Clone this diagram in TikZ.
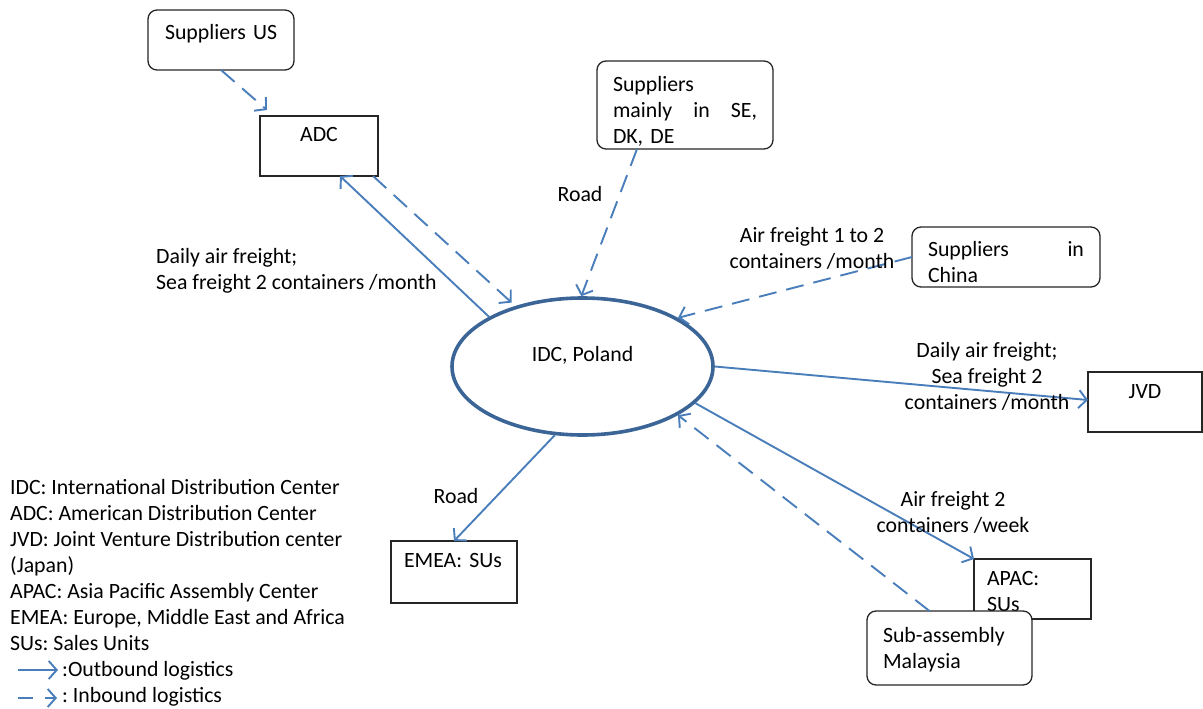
\documentclass[tikz,border=0pt]{standalone}
\usepackage{fontspec}
\setmainfont{Carlito}
\frenchspacing
\usetikzlibrary{arrows.meta,shapes.geometric}
\definecolor{arrowblue}{HTML}{4A7EBB}
\definecolor{idcblue}{HTML}{3A6596}
\begin{document}
\begin{tikzpicture}[x=1pt,y=-1pt,
    every node/.style={font=\fontsize{21.8}{26}\selectfont},
    box/.style={draw=black!85, line width=1.3pt, fill=white, anchor=north west, inner ysep=0pt, outer sep=0pt},
    rbox/.style={box, rounded corners=9pt},
    lbl/.style={anchor=base, align=center, inner sep=0pt},
    outbound/.style={arrowblue, line width=1.9pt, -{Straight Barb[length=8pt,width=18pt]}},
    inbound/.style={outbound, dash pattern=on 18pt off 10pt}]
    \useasboundingbox (0,0) rectangle (1203,709);

% centre
\node[ellipse, draw=idcblue, line width=3.6pt, minimum width=261, minimum height=137, inner sep=0pt, text depth=26pt] (idc) at (582.5,366.5) {IDC, Poland};

% boxes
\node[rbox, inner xsep=17pt, text width=112pt, text height=30pt, text depth=30pt] (sus) at (148,10) {\mbox{Suppliers US}};
\node[box, inner xsep=10pt, text width=98pt, align=center, text height=26pt, text depth=34pt] (adc) at (260,116) {ADC};
\node[rbox, inner xsep=16pt, text width=144pt, text height=31pt, text depth=57pt] (se) at (597,61)
    {Suppliers\\\makebox[144pt][s]{mainly\hfill in\hfill SE,}\\DK, DE};
\node[rbox, inner xsep=16pt, text width=156pt, text height=29pt, text depth=31pt] (china) at (912,227)
    {\makebox[156pt][s]{Suppliers\hfill in}\\China};
\node[box, inner xsep=10pt, text width=94pt, align=center, text height=26pt, text depth=34pt] (jvd) at (1088,372) {JVD};
\node[box, inner xsep=13pt, text width=100pt, text height=26pt, text depth=36pt] (emea) at (391,541) {EMEA: SUs};
\node[box, inner xsep=13pt, text width=91pt, text height=26pt, text depth=34pt] (apac) at (974,559) {APAC:\\SUs};
\node[rbox, inner xsep=16pt, text width=133pt, text height=31pt, text depth=43pt] (mal) at (867,611) {Sub-assembly\\Malaysia};

% flows
\draw[inbound] (sus.south) -- ([xshift=7pt,yshift=6pt]adc.north west);
\draw[outbound] (idc.152.8) -- ([xshift=21pt]adc.south);
\draw[inbound, shorten >=5pt] ([xshift=-5pt]adc.south east) -- (idc.138.8);
\draw[inbound] ([xshift=-48pt]se.south) -- (idc.91);
\draw[inbound] (china.west) -- (idc.27.7);
\draw[outbound] (idc.east) -- ([yshift=2pt]jvd.west);
\draw[outbound] (idc.-18) -- (apac.north west);
\draw[inbound] ([xshift=-20pt]mal.north) -- (idc.-27.4);
\draw[outbound] (idc.-112.3) -- (emea.north);

% flow labels (base = last line)
\node[lbl, anchor=base west, align=left] (fadc) at (156,289) {Daily air freight;\\Sea freight 2 containers /month};
\node[lbl] (fse) at (580,201) {Road};
\node[lbl] (fchina) at (812,268) {Air freight 1 to 2\\containers /month};
\node[lbl] (fjvd) at (987,409) {Daily air freight;\\Sea freight 2\\containers /month};
\node[lbl] (fapac) at (953,532) {Air freight 2\\containers /week};
\node[lbl] (femea) at (456,503) {Road};

% legend
\node[lbl, anchor=base west, align=left] (legend) at (10,650) {IDC: International Distribution Center\\ADC: American Distribution Center\\JVD: Joint Venture Distribution center\\(Japan)\\APAC: Asia Pacific Assembly Center\\EMEA: Europe, Middle East and Africa\\SUs: Sales Units};
\coordinate (outA) at (18,670);
\coordinate (outB) at (58,670);
\coordinate (inA) at (18,698);
\coordinate (inB) at (57,698);
\draw[outbound] (outA) -- (outB);
\draw[inbound, dash pattern=on 15pt off 12pt] (inA) -- (inB);
\node[lbl, anchor=base west] (outtxt) at (62,676) {:Outbound logistics};
\node[lbl, anchor=base west] (intxt) at (62,702) {:\ Inbound logistics};

\end{tikzpicture}
\end{document}
